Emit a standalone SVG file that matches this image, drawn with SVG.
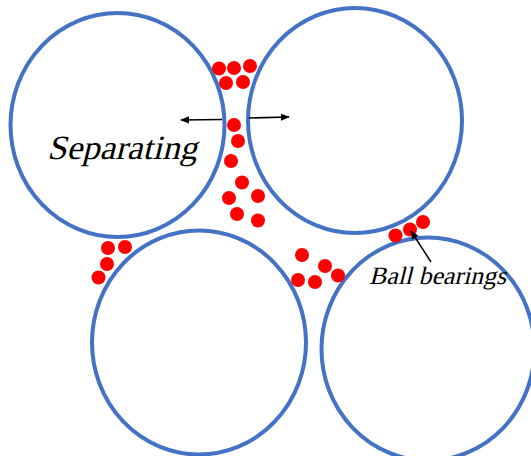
<svg xmlns="http://www.w3.org/2000/svg" width="531" height="456" viewBox="0 0 531 456">
<defs>
<style>
.roller{fill:#fff;stroke:#4472C4;stroke-width:4}
.ball{fill:#FF0000}
.arr{stroke:#000;stroke-width:1.5;fill:none;marker-end:url(#ah)}
.lbl{font-family:"Liberation Serif","Times New Roman",serif;font-style:normal;fill:#000}
</style>
<marker id="ah" viewBox="0 0 10 10" refX="9" refY="5" markerWidth="6" markerHeight="6" orient="auto" markerUnits="strokeWidth">
<path d="M0,1 L10,5 L0,9 Z" fill="#000"/>
</marker>
</defs>
<rect width="531" height="456" fill="#fff"/>
<g id="roller-top-left"><ellipse class="roller" cx="117.5" cy="125" rx="107" ry="112"/></g>
<g id="roller-top-right"><ellipse class="roller" cx="355" cy="120.5" rx="107" ry="112.5"/></g>
<g id="roller-bottom-left"><ellipse class="roller" cx="199" cy="342.5" rx="107" ry="112"/></g>
<g id="roller-bottom-right"><ellipse class="roller" cx="428" cy="349" rx="106.5" ry="111.5"/></g>
<g id="balls">
<circle class="ball" cx="219" cy="68.5" r="7"/>
<circle class="ball" cx="234" cy="68" r="7"/>
<circle class="ball" cx="250" cy="66" r="7"/>
<circle class="ball" cx="226" cy="83" r="7"/>
<circle class="ball" cx="243" cy="82" r="7"/>
<circle class="ball" cx="234" cy="125" r="7"/>
<circle class="ball" cx="238" cy="141" r="7"/>
<circle class="ball" cx="231" cy="161" r="7"/>
<circle class="ball" cx="242" cy="182.5" r="7"/>
<circle class="ball" cx="229" cy="198" r="7"/>
<circle class="ball" cx="258" cy="196" r="7"/>
<circle class="ball" cx="237" cy="214" r="7"/>
<circle class="ball" cx="258" cy="220.5" r="7"/>
<circle class="ball" cx="108" cy="248" r="7"/>
<circle class="ball" cx="125" cy="247" r="7"/>
<circle class="ball" cx="107" cy="264" r="7"/>
<circle class="ball" cx="98.5" cy="277.5" r="7"/>
<circle class="ball" cx="302" cy="255" r="7"/>
<circle class="ball" cx="325" cy="266" r="7"/>
<circle class="ball" cx="338" cy="275.5" r="7"/>
<circle class="ball" cx="298" cy="280" r="7"/>
<circle class="ball" cx="315" cy="282" r="7"/>
<circle class="ball" cx="395.5" cy="235.5" r="7"/>
<circle class="ball" cx="410" cy="229.5" r="7"/>
<circle class="ball" cx="423" cy="222" r="7"/>
</g>
<g id="connectors">
<line class="arr" x1="222" y1="119.5" x2="181" y2="120"/>
<line class="arr" x1="249" y1="118" x2="289" y2="117"/>
<line class="arr" x1="431" y1="262" x2="411" y2="231"/>
</g>
<g id="labels">
<text class="lbl" transform="translate(47,159) skewX(-14)" x="0" y="0" font-size="34" textLength="150" lengthAdjust="spacingAndGlyphs">Separating</text>
<text class="lbl" transform="translate(369,283.5) skewX(-14)" x="0" y="0" font-size="25" textLength="137" lengthAdjust="spacingAndGlyphs">Ball bearings</text>
</g>
</svg>
